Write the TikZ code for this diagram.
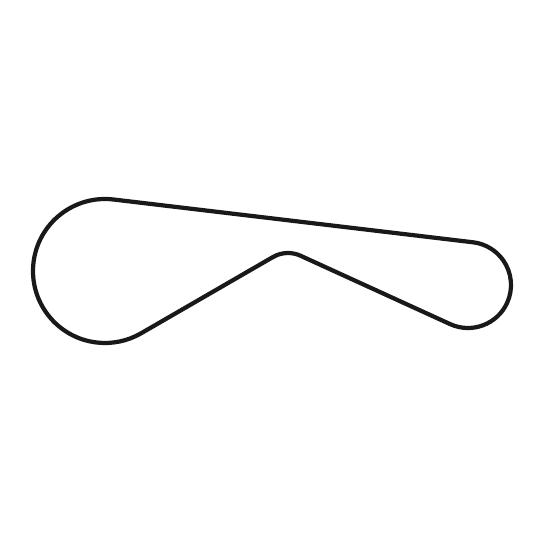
\documentclass[tikz,border=0pt]{standalone}
\usepackage{tikz}
\usepackage{xcolor}
\usetikzlibrary{calc}

\begin{document}
\begin{tikzpicture}[
    x=0.025cm, y=0.025cm,
    belt/.style={line width=3pt, draw=black!90, line join=round}
]
    \useasboundingbox (0,0) rectangle (544,544);
    \coordinate (crank) at (105,273);
    \coordinate (idler) at (288,261);
    \coordinate (alt) at (468,259);

    % Belt
    \draw[belt] ($(crank)+(83.21:72)$) arc[start angle=83.21, end angle=300.05, radius=72]
        -- ($(idler)+(120.05:30)$) arc[start angle=120.05, end angle=65.44, radius=30]
        -- ($(alt)+(245.44:43)$) arc[start angle=245.44, end angle=443.21, radius=43]
        -- cycle;
\end{tikzpicture}
\end{document}
